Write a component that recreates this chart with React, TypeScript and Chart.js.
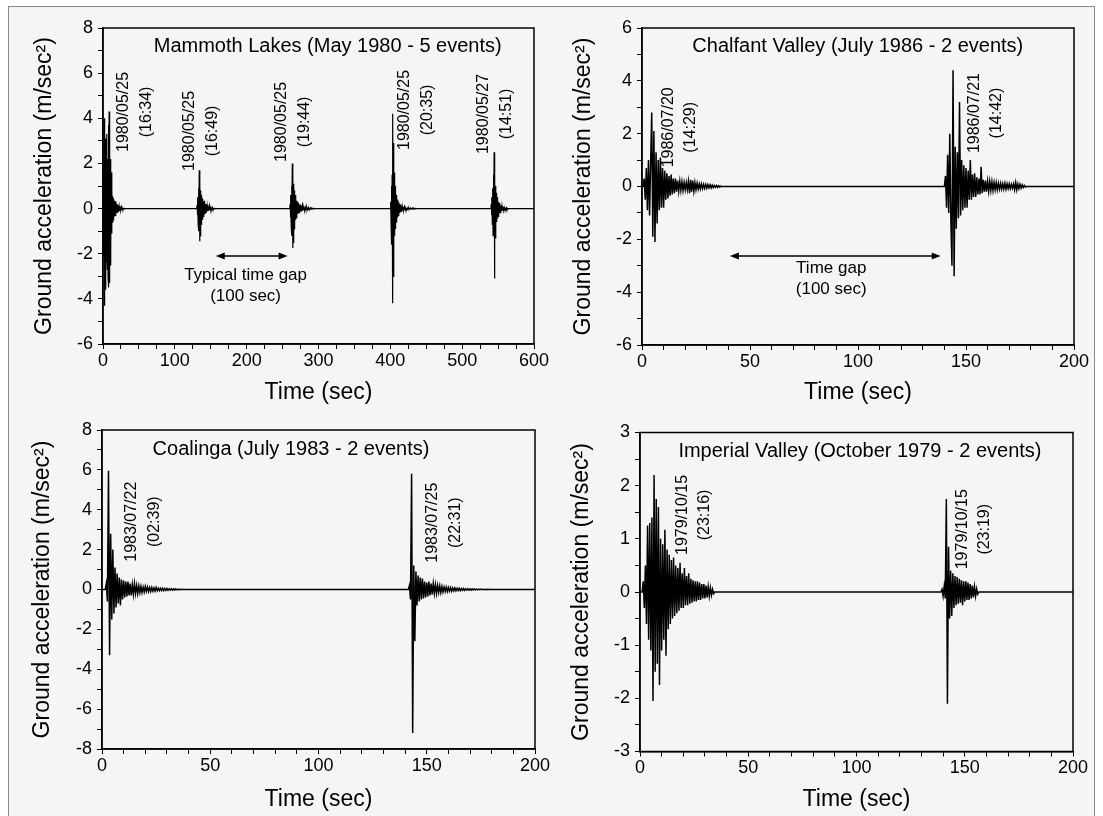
import React, { useEffect, useRef } from 'react';
import { Chart, registerables } from 'chart.js';

Chart.register(...registerables);

// ---------------- DATA ----------------
// All traces are sampled every SAMPLE_DT seconds from each event's start time.
const SAMPLE_DT = 0.5;

// Mammoth Lakes (May 1980 - 5 events)
const MAMMOTH_EVENT_STARTS = [0, 130.5, 260, 400, 540];
const MAMMOTH_E1 = [
  0, 1.4, -2.1, 4.0, -4.3, 3.5, -2.8, 3.1, -3.6, 2.9,
  -2.4, 3.3, -2.7, 2.2, -3.0, 3.7, -3.5, 4.3, -3.3, 2.6,
  -2.5, 2.2, -1.9, 1.6, -1.1, 0.8, -0.6, 0.55, -0.5, 0.45,
  -0.4, 0.35, -0.35, 0.3, -0.3, 0.32, -0.25, 0.22, -0.2, 0.18,
  -0.2, 0.15, -0.12, 0.14, -0.1, 0.1, -0.1, 0.08, -0.08, 0.09,
  -0.06, 0.05, -0.05, 0.04, -0.04, 0.03, -0.03, 0.02, -0.02, 0.01, 0,
];
const MAMMOTH_E2 = [
  0, 0.15, -0.3, 0.5, -0.7, 0.9, -1.0, 1.7, -1.45, 1.1,
  -1.2, 0.8, -0.7, 0.6, -0.55, 0.45, -0.5, 0.4, -0.35, 0.3,
  -0.3, 0.35, -0.25, 0.2, -0.22, 0.18, -0.15, 0.2, -0.12, 0.12,
  -0.1, 0.15, -0.08, 0.08, -0.07, 0.1, -0.06, 0.06, -0.05, 0.08,
  -0.04, 0.04, -0.03, 0.05, -0.03, 0.02, -0.02, 0.03, -0.02, 0.01, 0,
];
const MAMMOTH_E3 = [
  0, 0.2, -0.4, 0.6, -0.8, 1.0, -1.2, 2.0, -1.75, 1.3,
  -1.5, 1.1, -0.9, 0.8, -0.7, 0.6, -0.5, 0.5, -0.4, 0.35,
  -0.3, 0.3, -0.25, 0.25, -0.2, 0.22, -0.18, 0.15, -0.15, 0.18,
  -0.12, 0.12, -0.1, 0.12, -0.1, 0.08, -0.08, 0.1, -0.06, 0.07,
  -0.06, 0.05, -0.05, 0.06, -0.04, 0.05, -0.04, 0.04, -0.03, 0.04,
  -0.03, 0.03, -0.02, 0.03, -0.02, 0.02, -0.02, 0.02, -0.01, 0.02,
  -0.01, 0.01, -0.01, 0.01, -0.01, 0.01, 0, 0.01, 0, 0.01, 0,
];
const MAMMOTH_E4 = [
  0, 0.3, -0.6, 1.0, -1.6, 1.5, -4.2, 4.2, -3.0, 2.9,
  -1.8, 1.6, -1.2, 1.0, -0.9, 0.7, -0.6, 0.6, -0.5, 0.4,
  -0.4, 0.35, -0.3, 0.3, -0.25, 0.2, -0.2, 0.18, -0.15, 0.15,
  -0.12, 0.12, -0.1, 0.1, -0.08, 0.08, -0.07, 0.07, -0.06, 0.05,
  -0.05, 0.05, -0.04, 0.04, -0.03, 0.03, -0.03, 0.03, -0.02, 0.02,
  -0.02, 0.02, -0.02, 0.02, -0.01, 0.02, -0.01, 0.02, -0.01, 0.01,
  -0.01, 0.01, -0.01, 0.01, -0.01, 0.01, -0.01, 0.01, -0.01, 0.01, 0,
];
const MAMMOTH_E5 = [
  0, 0.2, -0.3, 0.5, -0.7, 0.9, -1.2, 1.5, -0.9, 2.5,
  -3.1, 1.4, -1.3, 1.0, -0.8, 0.7, -0.6, 0.5, -0.45, 0.4,
  -0.35, 0.3, -0.3, 0.25, -0.2, 0.22, -0.18, 0.15, -0.12, 0.15,
  -0.1, 0.1, -0.08, 0.1, -0.06, 0.06, -0.05, 0.05, -0.04, 0.04,
  -0.03, 0.03, -0.02, 0.03, -0.02, 0.02, -0.01, 0.01, 0,
];
const MAMMOTH_EVENTS = [MAMMOTH_E1, MAMMOTH_E2, MAMMOTH_E3, MAMMOTH_E4, MAMMOTH_E5];
const MAMMOTH_EVENT_LABELS = [
  ['1980/05/25', '(16:34)'],
  ['1980/05/25', '(16:49)'],
  ['1980/05/25', '(19:44)'],
  ['1980/05/25', '(20:35)'],
  ['1980/05/27', '(14:51)'],
];
const MAMMOTH_X_LABELS = [0, 100, 200, 300, 400, 500, 600];
const MAMMOTH_Y_LABELS = [-6, -4, -2, 0, 2, 4, 6, 8];

// Chalfant Valley (July 1986 - 2 events)
const CHALFANT_EVENT_STARTS = [0.5, 140];
const CHALFANT_E1 = [
  0, 0.3, -0.5, 0.7, -0.9, 1.0, -1.1, 0.9, 2.8, -1.9,
  2.1, -2.1, 1.3, -1.4, 1.0, -0.9, 1.1, -0.8, 0.7, -0.8,
  0.6, -0.5, 0.5, -0.45, 0.4, -0.35, 0.45, -0.3, 0.3, -0.25,
  0.3, -0.2, 0.22, -0.18, 0.2, -0.15, 0.18, -0.15, 0.15, -0.12,
  0.15, -0.12, 0.2, -0.25, 0.25, -0.2, 0.22, -0.18, 0.15, -0.12,
  0.12, -0.1, 0.1, -0.09, 0.1, -0.08, 0.08, -0.07, 0.08, -0.06,
  0.07, -0.05, 0.06, -0.05, 0.05, -0.04, 0.04, -0.03, 0.04, -0.03,
  0.03, -0.02, 0.02, -0.01, 0,
];
const CHALFANT_E2 = [
  0, 0.4, -0.8, 1.2, -1.0, 2.0, -1.3, -3.0, 4.4, -3.4,
  1.5, -1.6, 1.3, -1.2, 3.2, -1.1, 1.0, -0.9, 0.8, -0.8,
  0.7, -0.8, 0.6, -0.5, 1.0, -0.5, 0.45, -0.4, 0.5, -0.4,
  0.35, -0.3, 0.3, -0.3, 0.75, -0.25, 0.25, -0.2, 0.22, -0.2,
  0.2, -0.18, 0.2, -0.15, 0.18, -0.15, 0.15, -0.12, 0.15, -0.12,
  0.12, -0.1, 0.12, -0.1, 0.1, -0.1, 0.12, -0.1, 0.1, -0.08,
  0.1, -0.08, 0.08, -0.07, 0.1, -0.12, 0.15, -0.12, 0.1, -0.08,
  0.08, -0.06, 0.06, -0.04, 0.04, -0.02, 0,
];
const CHALFANT_EVENTS = [CHALFANT_E1, CHALFANT_E2];
const CHALFANT_EVENT_LABELS = [
  ['1986/07/20', '(14:29)'],
  ['1986/07/21', '(14:42)'],
];
const CHALFANT_X_LABELS = [0, 50, 100, 150, 200];
const CHALFANT_Y_LABELS = [-6, -4, -2, 0, 2, 4, 6];

// Coalinga (July 1983 - 2 events)
const COALINGA_EVENT_STARTS = [1.5, 141.5];
const COALINGA_E1 = [
  0, 0.3, -0.6, 5.95, -3.3, 2.8, -1.5, 2.0, -1.2, 1.1,
  -0.9, 0.8, -0.7, 0.6, -0.8, 0.5, -0.5, 0.45, -0.4, 0.4,
  -0.35, 0.4, -0.3, 0.3, -0.3, 0.25, -0.25, 0.3, -0.2, 0.2,
  -0.2, 0.18, -0.15, 0.15, -0.15, 0.12, -0.12, 0.15, -0.1, 0.12,
  -0.1, 0.1, -0.1, 0.1, -0.08, 0.08, -0.08, 0.1, -0.06, 0.07,
  -0.06, 0.06, -0.05, 0.06, -0.05, 0.05, -0.04, 0.05, -0.04, 0.04,
  -0.03, 0.04, -0.03, 0.03, -0.03, 0.03, -0.02, 0.02, -0.02, 0.02,
  -0.01, 0.01, 0,
];
const COALINGA_E2 = [
  0, 0.2, -0.5, 5.8, -7.2, 1.2, -2.6, 0.9, -0.8, 0.7,
  -0.6, 0.6, -0.5, 0.55, -0.45, 0.4, -0.4, 0.35, -0.35, 0.4,
  -0.3, 0.3, -0.25, 0.3, -0.2, 0.25, -0.2, 0.2, -0.15, 0.18,
  -0.15, 0.15, -0.12, 0.12, -0.1, 0.12, -0.1, 0.1, -0.08, 0.1,
  -0.08, 0.08, -0.07, 0.08, -0.06, 0.06, -0.05, 0.06, -0.05, 0.05,
  -0.04, 0.05, -0.04, 0.04, -0.03, 0.04, -0.03, 0.03, -0.03, 0.03,
  -0.02, 0.03, -0.02, 0.02, -0.02, 0.02, -0.01, 0.02, -0.01, 0.01,
  -0.01, 0.01, -0.01, 0.01, 0, 0.01, 0,
];
const COALINGA_EVENTS = [COALINGA_E1, COALINGA_E2];
const COALINGA_EVENT_LABELS = [
  ['1983/07/22', '(02:39)'],
  ['1983/07/25', '(22:31)'],
];
const COALINGA_X_LABELS = [0, 50, 100, 150, 200];
const COALINGA_Y_LABELS = [-8, -6, -4, -2, 0, 2, 4, 6, 8];

// Imperial Valley (October 1979 - 2 events)
const IMPERIAL_EVENT_STARTS = [1, 139];
const IMPERIAL_E1 = [
  0, 0.2, -0.3, 0.5, -0.6, 1.25, -0.9, 1.3, -1.1, 1.4,
  -2.05, 2.2, -1.5, 1.75, -1.35, 1.6, -1.75, 1.0, -1.1, 0.9,
  -0.9, 1.17, -1.2, 0.8, -0.7, 0.7, -0.6, 0.6, -0.5, 0.65,
  -0.45, 0.5, -0.4, 0.45, -0.35, 0.55, -0.3, 0.35, -0.3, 0.45,
  -0.25, 0.3, -0.25, 0.35, -0.22, 0.25, -0.2, 0.22, -0.18, 0.2,
  -0.18, 0.2, -0.15, 0.18, -0.15, 0.15, -0.12, 0.15, -0.12, 0.12,
  -0.1, 0.1, -0.08, 0.08, -0.06, 0.05, -0.03, 0,
];
const IMPERIAL_E2 = [
  0, 0.05, -0.08, 0.1, -0.12, 1.75, -2.1, 0.85, -0.5, 0.4,
  -0.45, 0.35, -0.3, 0.3, -0.25, 0.28, -0.22, 0.25, -0.2, 0.22,
  -0.25, 0.2, -0.18, 0.2, -0.15, 0.18, -0.15, 0.15, -0.12, 0.12,
  -0.1, 0.1, -0.08, 0.06, -0.04, 0,
];
const IMPERIAL_EVENTS = [IMPERIAL_E1, IMPERIAL_E2];
const IMPERIAL_EVENT_LABELS = [
  ['1979/10/15', '(23:16)'],
  ['1979/10/15', '(23:19)'],
];
const IMPERIAL_X_LABELS = [0, 50, 100, 150, 200];
const IMPERIAL_Y_LABELS = [-3, -2, -1, 0, 1, 2, 3];

// ---------------- TEXT ----------------
const X_TITLE = 'Time (sec)';
const Y_TITLE = 'Ground acceleration (m/sec²)';
const FONT = "'Liberation Sans', Arial, Helvetica, sans-serif";

type Pt = { x: number; y: number };

function buildTrace(starts: number[], events: number[][], xMax: number): Pt[] {
  const pts: Pt[] = [{ x: 0, y: 0 }];
  events.forEach((vals, k) => {
    vals.forEach((v, i) => pts.push({ x: starts[k] + i * SAMPLE_DT, y: v }));
  });
  pts.push({ x: xMax, y: 0 });
  return pts;
}

type PanelCfg = {
  canvas: { left: number; top: number; width: number; height: number };
  area: { left: number; top: number; right: number; bottom: number };
  yTitlePad: number;
  lineWidth: number;
  xMin: number; xMax: number; xStep: number; xLabels: number[];
  yMin: number; yMax: number; yStep: number; yLabels: number[];
  trace: Pt[];
  title: string; titleAt: [number, number];
  eventLabels: string[][]; eventLabelAt: [number, number][]; eventLineGap: number;
  arrow?: { from: number; to: number; y: number; text: string[]; textX: number; textY: number };
};

const PANELS: PanelCfg[] = [
  {
    canvas: { left: 10, top: 8, width: 545, height: 400 },
    area: { left: 103, top: 28, right: 534, bottom: 344 },
    yTitlePad: 20.8,
    lineWidth: 1.2,
    xMin: 0, xMax: 600, xStep: 25, xLabels: MAMMOTH_X_LABELS,
    yMin: -6, yMax: 8, yStep: 1, yLabels: MAMMOTH_Y_LABELS,
    trace: buildTrace(MAMMOTH_EVENT_STARTS, MAMMOTH_EVENTS, 600),
    title: 'Mammoth Lakes (May 1980 - 5 events)', titleAt: [312.8, 7.17],
    eventLabels: MAMMOTH_EVENT_LABELS,
    eventLabelAt: [[44.3, 4.28], [136.8, 3.44], [265.1, 3.84], [436.1, 4.37], [546, 4.19]],
    eventLineGap: 23,
    arrow: { from: 157, to: 257, y: -2.1, text: ['Typical time gap', '(100 sec)'], textX: 198.5, textY: -2.94 },
  },
  {
    canvas: { left: 552, top: 8, width: 545, height: 400 },
    area: { left: 642, top: 28, right: 1074, bottom: 345 },
    yTitlePad: 17.7,
    lineWidth: 1.5,
    xMin: 0, xMax: 200, xStep: 10, xLabels: CHALFANT_X_LABELS,
    yMin: -6, yMax: 6, yStep: 1, yLabels: CHALFANT_Y_LABELS,
    trace: buildTrace(CHALFANT_EVENT_STARTS, CHALFANT_EVENTS, 200),
    title: 'Chalfant Valley (July 1986 - 2 events)', titleAt: [99.9, 5.29],
    eventLabels: CHALFANT_EVENT_LABELS,
    eventLabelAt: [[17.5, 2.24], [159.0, 2.78]],
    eventLineGap: 21.5,
    arrow: { from: 40.7, to: 138.3, y: -2.63, text: ['Time gap', '(100 sec)'], textX: 87.6, textY: -3.1 },
  },
  {
    canvas: { left: 10, top: 410, width: 545, height: 405 },
    area: { left: 102, top: 430, right: 535, bottom: 749 },
    yTitlePad: 19.1,
    lineWidth: 1.5,
    xMin: 0, xMax: 200, xStep: 10, xLabels: COALINGA_X_LABELS,
    yMin: -8, yMax: 8, yStep: 1, yLabels: COALINGA_Y_LABELS,
    trace: buildTrace(COALINGA_EVENT_STARTS, COALINGA_EVENTS, 200),
    title: 'Coalinga (July 1983 - 2 events)', titleAt: [87.3, 7.03],
    eventLabels: COALINGA_EVENT_LABELS,
    eventLabelAt: [[19.0, 3.4], [158.0, 3.35]],
    eventLineGap: 23,
  },
  {
    canvas: { left: 552, top: 410, width: 545, height: 405 },
    area: { left: 640, top: 432.5, right: 1073, bottom: 751.5 },
    yTitlePad: 15.9,
    lineWidth: 1.5,
    xMin: 0, xMax: 200, xStep: 10, xLabels: IMPERIAL_X_LABELS,
    yMin: -3, yMax: 3, yStep: 0.5, yLabels: IMPERIAL_Y_LABELS,
    trace: buildTrace(IMPERIAL_EVENT_STARTS, IMPERIAL_EVENTS, 200),
    title: 'Imperial Valley (October 1979 - 2 events)', titleAt: [101.6, 2.64],
    eventLabels: IMPERIAL_EVENT_LABELS,
    eventLabelAt: [[24.8, 1.45], [154.1, 1.18]],
    eventLineGap: 21.5,
  },
];

function hasLabel(list: number[], v: number) {
  return list.some((l) => Math.abs(l - v) < 1e-6);
}

const framePlugin = {
  id: 'plotFrame',
  afterDatasetsDraw(chart: any) {
    const { ctx, chartArea: a } = chart;
    ctx.save();
    ctx.strokeStyle = '#000';
    ctx.lineWidth = 1.5;
    ctx.strokeRect(a.left, a.top, a.right - a.left, a.bottom - a.top);
    ctx.restore();
  },
};

function makeAnnotationPlugin(cfg: PanelCfg) {
  return {
    id: 'seismoAnnotations',
    afterDraw(chart: any) {
      const { ctx } = chart;
      const xs = chart.scales.x;
      const ys = chart.scales.y;
      ctx.save();
      ctx.fillStyle = '#000';
      ctx.strokeStyle = '#000';
      ctx.textAlign = 'center';
      ctx.textBaseline = 'middle';
      // title
      ctx.font = `20px ${FONT}`;
      ctx.fillText(cfg.title, xs.getPixelForValue(cfg.titleAt[0]), ys.getPixelForValue(cfg.titleAt[1]));
      // event labels (rotated)
      ctx.font = `16px ${FONT}`;
      cfg.eventLabels.forEach((lines, i) => {
        const [tx, ty] = cfg.eventLabelAt[i];
        const px = xs.getPixelForValue(tx);
        const py = ys.getPixelForValue(ty);
        ctx.save();
        ctx.translate(px, py);
        ctx.rotate(-Math.PI / 2);
        const g = cfg.eventLineGap;
        lines.forEach((ln, j) => {
          ctx.fillText(ln, 0, (j - (lines.length - 1) / 2) * g);
        });
        ctx.restore();
      });
      // arrow + text
      if (cfg.arrow) {
        const ar = cfg.arrow;
        const x1 = xs.getPixelForValue(ar.from);
        const x2 = xs.getPixelForValue(ar.to);
        const y = ys.getPixelForValue(ar.y);
        ctx.lineWidth = 1.6;
        ctx.beginPath();
        ctx.moveTo(x1 + 4, y);
        ctx.lineTo(x2 - 4, y);
        ctx.stroke();
        ctx.beginPath();
        ctx.moveTo(x1, y);
        ctx.lineTo(x1 + 9, y - 3.5);
        ctx.lineTo(x1 + 9, y + 3.5);
        ctx.closePath();
        ctx.fill();
        ctx.beginPath();
        ctx.moveTo(x2, y);
        ctx.lineTo(x2 - 9, y - 3.5);
        ctx.lineTo(x2 - 9, y + 3.5);
        ctx.closePath();
        ctx.fill();
        ctx.font = `17px ${FONT}`;
        const tx = xs.getPixelForValue(ar.textX);
        const ty = ys.getPixelForValue(ar.textY);
        ar.text.forEach((ln, j) => ctx.fillText(ln, tx, ty + j * 21));
      }
      ctx.restore();
    },
  };
}

function Panel({ cfg }: { cfg: PanelCfg }) {
  const ref = useRef<HTMLCanvasElement>(null);
  useEffect(() => {
    const c = cfg.canvas;
    const a = cfg.area;
    const padTop = a.top - c.top;
    const padRight = c.left + c.width - a.right;
    const yAxisW = a.left - c.left;
    const xAxisH = c.top + c.height - a.bottom;
    const tickFont = { family: FONT, size: 18 };
    const titleFont = { family: FONT, size: 23 };
    const chart = new Chart(ref.current as HTMLCanvasElement, {
      type: 'line',
      data: {
        datasets: [
          {
            data: cfg.trace as any,
            borderColor: '#000',
            borderWidth: cfg.lineWidth,
            pointRadius: 0,
            tension: 0,
            fill: false,
          },
        ],
      },
      options: {
        responsive: false,
        animation: false,
        parsing: false,
        normalized: true,
        events: [],
        layout: { padding: { left: 0, top: padTop, right: padRight, bottom: 0 } },
        plugins: { legend: { display: false }, tooltip: { enabled: false } },
        scales: {
          x: {
            type: 'linear',
            min: cfg.xMin,
            max: cfg.xMax,
            afterFit: (s: any) => { s.height = xAxisH; },
            ticks: {
              stepSize: cfg.xStep,
              autoSkip: false,
              maxRotation: 0,
              padding: 1,
              color: '#000',
              font: tickFont,
              callback: (v: any) => (hasLabel(cfg.xLabels, Number(v)) ? String(v) : ''),
            },
            grid: { drawOnChartArea: false, drawTicks: true, tickLength: 5, color: '#000', lineWidth: 1 },
            border: { display: true, color: '#000', width: 1.5 },
            title: { display: true, text: X_TITLE, color: '#000', font: titleFont, padding: { top: 0, bottom: 2 } },
          },
          y: {
            type: 'linear',
            min: cfg.yMin,
            max: cfg.yMax,
            afterFit: (s: any) => { s.width = yAxisW; },
            ticks: {
              stepSize: cfg.yStep,
              autoSkip: false,
              padding: 5,
              color: '#000',
              font: tickFont,
              callback: (v: any) => (hasLabel(cfg.yLabels, Number(v)) ? String(v) : ''),
            },
            grid: { drawOnChartArea: false, drawTicks: true, tickLength: 5, color: '#000', lineWidth: 1 },
            border: { display: true, color: '#000', width: 1.5 },
            title: { display: true, text: Y_TITLE, color: '#000', font: titleFont, padding: { top: cfg.yTitlePad, bottom: 0 } },
          },
        },
      } as any,
      plugins: [framePlugin, makeAnnotationPlugin(cfg)],
    });
    return () => chart.destroy();
  }, [cfg]);
  const c = cfg.canvas;
  return (
    <canvas
      ref={ref}
      width={c.width}
      height={c.height}
      style={{ position: 'absolute', left: c.left, top: c.top, width: c.width, height: c.height }}
    />
  );
}

export default function App() {
  return (
    <div style={{ position: 'fixed', left: 0, top: 0, width: 1103, height: 816, background: '#ffffff', overflow: 'hidden' }}>
      <div
        style={{
          position: 'absolute',
          left: 8,
          top: 6,
          width: 1087,
          height: 820,
          background: '#f5f5f5',
          border: '1px solid #8a8a8a',
          boxSizing: 'border-box',
        }}
      />
      {PANELS.map((p, i) => (
        <Panel key={i} cfg={p} />
      ))}
    </div>
  );
}
